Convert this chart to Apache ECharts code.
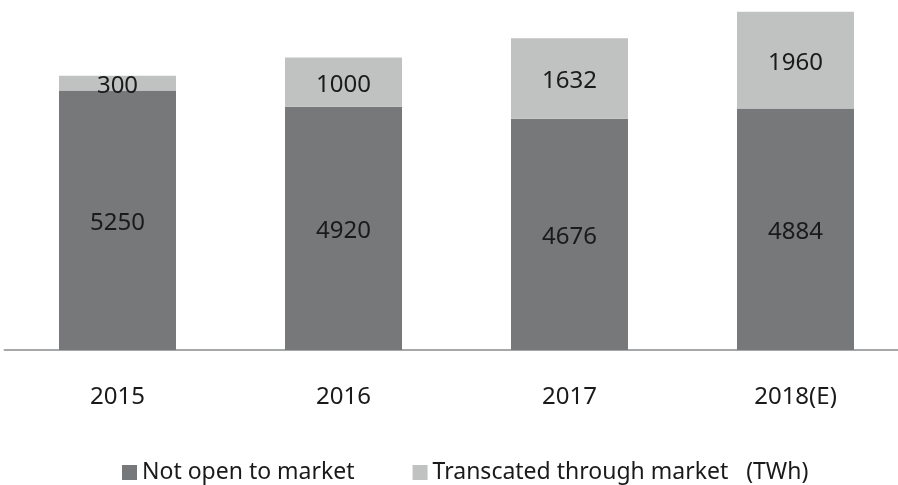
<!DOCTYPE html>
<html>
<head>
<meta charset="utf-8">
<script src="https://cdn.jsdelivr.net/npm/echarts@6/dist/echarts.min.js"></script>
<style>
    html, body {margin: 0; padding: 0; background: #fff;}
    #chart {width: 898px; height: 485px;}
</style>
</head>
<body>
<div id="chart"></div>
<script>
    var years = ['2015', '2016', '2017', '2018(E)'];
    var notOpen = [5250, 4920, 4676, 4884];
    var transacted = [300, 1000, 1632, 1960];

    var labelStyle = {
        show: true,
        position: 'inside',
        offset: [0, 3],
        color: '#1a1a1a',
        fontSize: 24,
        fontFamily: 'Noto Sans'
    };

    var chart = echarts.init(document.getElementById('chart'));
    chart.setOption({
        backgroundColor: '#ffffff',
        animation: false,
        grid: {left: 4.5, top: 4, width: 904, height: 346, outerBoundsMode: 'none'},
        legend: {
            top: 456,
            left: 117,
            itemWidth: 15,
            itemHeight: 15,
            itemGap: 58,
            icon: 'rect',
            textStyle: {color: '#1a1a1a', fontSize: 23, fontFamily: 'Noto Sans'},
            data: ['Not open to market', 'Transcated through market   (TWh)']
        },
        xAxis: {
            type: 'category',
            data: years,
            axisTick: {show: false},
            axisLine: {lineStyle: {color: '#a6a8aa', width: 2}},
            axisLabel: {
                color: '#1a1a1a',
                fontSize: 24,
                fontFamily: 'Noto Sans',
                margin: 35
            }
        },
        yAxis: {
            type: 'value',
            min: 0,
            max: 7000,
            show: false,
            splitLine: {show: false}
        },
        series: [{
            name: 'Not open to market',
            type: 'bar',
            stack: 'total',
            barWidth: 117,
            itemStyle: {color: '#76787a'},
            label: labelStyle,
            data: notOpen
        }, {
            name: 'Transcated through market   (TWh)',
            type: 'bar',
            stack: 'total',
            barWidth: 117,
            itemStyle: {color: '#c0c1c1'},
            label: labelStyle,
            data: transacted
        }]
    });
</script>
</body>
</html>
